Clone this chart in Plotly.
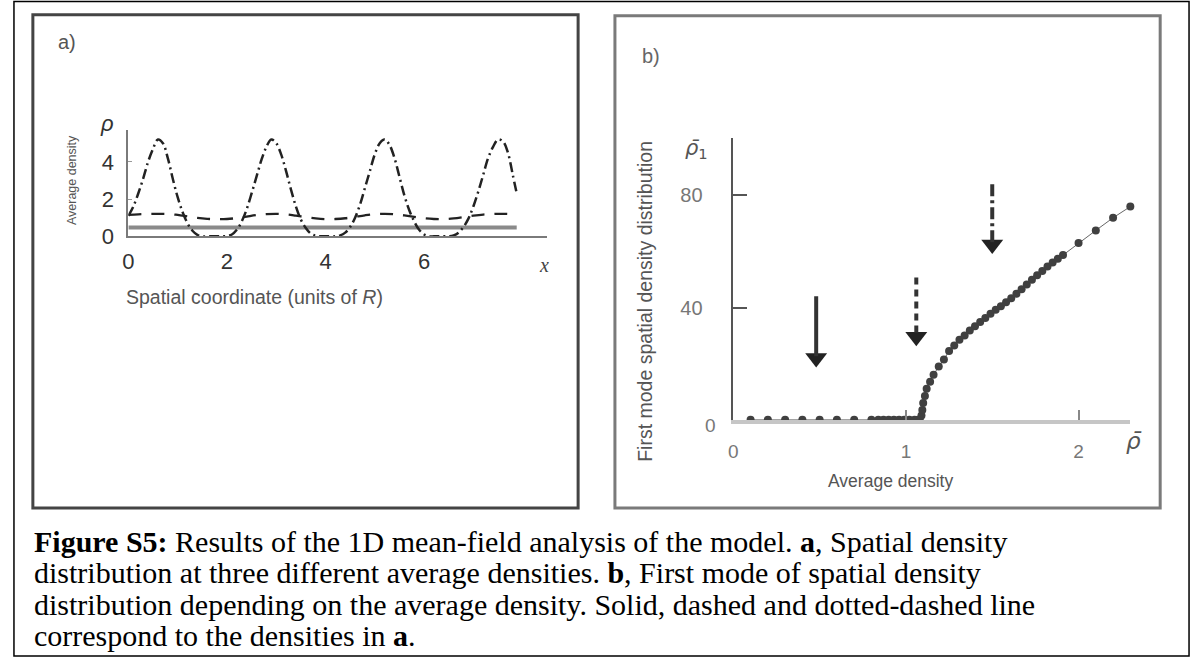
import plotly.graph_objects as go

W, H = 1196, 671

def px(x):
    return x / W

def py(y):
    return 1 - y / H

# ---------------- Panel a data ----------------
a_solid_x = [0.0, 7.88]
a_solid_y = [0.47, 0.47]

a_dash_x = [0.0, 0.2, 0.4, 0.6, 0.8, 1.0, 1.2, 1.4, 1.6, 1.8, 2.0, 2.2, 2.4, 2.6, 2.8,
            3.0, 3.2, 3.4, 3.6, 3.8, 4.0, 4.2, 4.4, 4.6, 4.8, 5.0, 5.2, 5.4, 5.6, 5.8,
            6.0, 6.2, 6.4, 6.6, 6.8, 7.0, 7.2, 7.4, 7.6, 7.88]
a_dash_y = [1.15, 1.18, 1.2, 1.21, 1.2, 1.15, 1.07, 0.99, 0.94, 0.92, 0.93, 0.98, 1.06, 1.14, 1.19,
            1.21, 1.18, 1.11, 1.03, 0.96, 0.92, 0.93, 0.97, 1.05, 1.13, 1.19, 1.21, 1.19, 1.12, 1.04,
            0.97, 0.93, 0.92, 0.96, 1.03, 1.11, 1.17, 1.2, 1.21, 1.18]

a_dd_x = [0.0, 0.1, 0.2, 0.3, 0.4, 0.5, 0.6, 0.7, 0.8, 0.9,
          1.0, 1.1, 1.2, 1.3, 1.4, 1.5, 1.6, 1.7, 1.8, 1.9,
          2.0, 2.1, 2.2, 2.3, 2.4, 2.5, 2.6, 2.7, 2.8, 2.9,
          3.0, 3.1, 3.2, 3.3, 3.4, 3.5, 3.6, 3.7, 3.8, 3.9,
          4.0, 4.1, 4.2, 4.3, 4.4, 4.5, 4.6, 4.7, 4.8, 4.9,
          5.0, 5.1, 5.2, 5.3, 5.4, 5.5, 5.6, 5.7, 5.8, 5.9,
          6.0, 6.1, 6.2, 6.3, 6.4, 6.5, 6.6, 6.7, 6.8, 6.9,
          7.0, 7.1, 7.2, 7.3, 7.4, 7.5, 7.6, 7.7, 7.8, 7.88]
a_dd_y = [1.1, 1.6, 2.3, 3.1, 4.0, 4.7, 5.2, 5.0, 4.2, 3.1,
          2.1, 1.3, 0.7, 0.3, 0.08, 0.0, 0.0, 0.0, 0.0, 0.0,
          0.02, 0.1, 0.35, 0.8, 1.45, 2.3, 3.2, 4.1, 4.8, 5.2,
          5.0, 4.4, 3.5, 2.5, 1.6, 0.9, 0.45, 0.15, 0.03, 0.0,
          0.0, 0.0, 0.0, 0.05, 0.2, 0.5, 1.0, 1.7, 2.6, 3.5,
          4.4, 5.0, 5.2, 4.9, 4.2, 3.2, 2.2, 1.4, 0.8, 0.35,
          0.1, 0.0, 0.0, 0.0, 0.0, 0.0, 0.05, 0.2, 0.5, 0.95,
          1.6, 2.4, 3.3, 4.2, 4.8, 5.2, 5.1, 4.5, 3.3, 2.3]

a_xticks = [0, 2, 4, 6]
a_yticks = [0, 2, 4]

# ---------------- Panel b data ----------------
b_x = [0.1, 0.2, 0.3, 0.4, 0.5, 0.6, 0.7, 0.8, 0.84, 0.87, 0.90, 0.93, 0.96, 0.99,
       1.02, 1.05, 1.07, 1.08,
       1.09, 1.095, 1.10, 1.11, 1.12, 1.14, 1.16, 1.19, 1.22, 1.25, 1.28, 1.31, 1.34,
       1.37, 1.40, 1.43, 1.46, 1.49, 1.52, 1.55, 1.58, 1.61, 1.64, 1.67, 1.70, 1.73,
       1.76, 1.79, 1.82, 1.85, 1.88, 1.91, 2.0, 2.1, 2.2, 2.3]
b_y = [0, 0, 0, 0, 0, 0, 0, 0, 0, 0, 0, 0, 0, 0,
       0, 0, 0, 0,
       1.5, 3.5, 6.0, 8.5, 11.0, 13.5, 16.0, 19.0, 21.5, 24.5, 26.5, 28.5, 30.0,
       31.8, 33.3, 34.8, 36.3, 37.8, 39.2, 40.5, 41.9, 43.3, 44.9, 46.5, 48.2, 49.9,
       51.5, 53.0, 54.6, 56.1, 57.4, 58.7, 63.0, 67.5, 72.0, 76.0]

b_xticks = [0, 1, 2]
b_yticks = [40, 80]

arrow_x = [0.48, 1.06, 1.50]
arrow_top = [44.0, 50.7, 84.0]
arrow_tip = [19.0, 26.6, 59.5]
arrow_dash = ["solid", "7px,5px", "12px,4px,3px,4px"]

fig = go.Figure()

# Panel a traces
fig.add_trace(go.Scatter(x=a_solid_x, y=a_solid_y, mode="lines",
                         line=dict(color="#8a8a8a", width=4), xaxis="x", yaxis="y",
                         showlegend=False, hoverinfo="skip"))
fig.add_trace(go.Scatter(x=a_dash_x, y=a_dash_y, mode="lines", line_shape="spline",
                         line=dict(color="#222", width=2.3, dash="13px,10px"),
                         xaxis="x", yaxis="y", showlegend=False, hoverinfo="skip"))
fig.add_trace(go.Scatter(x=a_dd_x, y=a_dd_y, mode="lines", line_shape="spline",
                         line=dict(color="#222", width=2.5, dash="10px,4px,2px,4px"),
                         xaxis="x", yaxis="y", showlegend=False, hoverinfo="skip"))

# Panel b traces
fig.add_trace(go.Scatter(x=b_x, y=b_y, mode="lines+markers",
                         line=dict(color="#666", width=1),
                         marker=dict(color="#404040", size=8, symbol="circle"),
                         cliponaxis=False, xaxis="x2", yaxis="y2",
                         showlegend=False, hoverinfo="skip"))

shapes = []
head_h = 6.0
for xa, yt, yp, d in zip(arrow_x, arrow_top, arrow_tip, arrow_dash):
    shapes.append(dict(type="line", xref="x2", yref="y2", x0=xa, x1=xa, y0=yt, y1=yp + head_h * 0.6,
                       line=dict(color="#333", width=4, dash=d)))
fig.add_trace(go.Scatter(x=arrow_x, y=[t + head_h / 2 for t in arrow_tip], mode="markers",
                         marker=dict(symbol="triangle-down", size=19, color="#222"),
                         cliponaxis=False, xaxis="x2", yaxis="y2",
                         showlegend=False, hoverinfo="skip"))

# Frames
shapes.append(dict(type="rect", xref="paper", yref="paper", x0=px(8), x1=px(1189), y0=py(669), y1=py(1.5),
                   line=dict(color="#000", width=1.5)))
shapes.append(dict(type="rect", xref="paper", yref="paper", x0=px(27), x1=px(575), y0=py(518), y1=py(15),
                   line=dict(color="#444", width=3)))
shapes.append(dict(type="rect", xref="paper", yref="paper", x0=px(612), x1=px(1160), y0=py(518), y1=py(16),
                   line=dict(color="#7a7a7a", width=3)))

sans = "Liberation Sans, Arial, sans-serif"
serif = "Liberation Serif, Times New Roman, serif"
greek = "DejaVu Sans, sans-serif"

ann = []

def text(x, y, t, size, color="#555", family=sans, angle=0, xanchor="center"):
    ann.append(dict(x=px(x), y=py(y), xref="paper", yref="paper", text=t, showarrow=False,
                    font=dict(size=size, color=color, family=family), textangle=angle,
                    xanchor=xanchor, yanchor="middle"))

# Panel a labels
text(61, 43, "a)", 20, "#555")
text(102, 126, "<i>ρ</i>", 22, "#333")
text(67, 184, "Average density", 12.5, "#555", angle=-90)
text(250, 303, "Spatial coordinate (units of <i>R</i>)", 19.5, "#555")
text(541, 270, "<i>x</i>", 20, "#444", family=serif)

# Panel b labels
text(648, 57, "b)", 20, "#666")
text(694, 152, "<i>ρ̄</i><sub>1</sub>", 21, "#555", family=greek)
text(642, 307, "First mode spatial density distribution", 19.5, "#555", angle=-90)
text(889, 491, "Average density", 17.5, "#555")
text(1134, 450, "<i>ρ̄</i>", 23, "#555", family=greek)
text(708, 434, "0", 19, "#777")

# Caption
cap = [
    "<b>Figure S5:</b> Results of the 1D mean-field analysis of the model. <b>a</b>, Spatial density",
    "distribution at three different average densities. <b>b</b>, First mode of spatial density",
    "distribution depending on the average density. Solid, dashed and dotted-dashed line",
    "correspond to the densities in <b>a</b>.",
]
for i, line in enumerate(cap):
    text(26, 552 + 32 * i, line, 30, "#000", family=serif, xanchor="left")

fig.update_layout(
    width=W, height=H, autosize=False,
    margin=dict(l=0, r=0, t=0, b=0),
    paper_bgcolor="white", plot_bgcolor="white",
    showlegend=False,
    xaxis=dict(domain=[px(123), px(544)], range=[0, 8.5], showgrid=False, zeroline=False,
               showline=True, linecolor="#7a7a7a", linewidth=2, ticks="",
               tickvals=a_xticks, ticktext=[str(v) for v in a_xticks],
               tickfont=dict(size=22, color="#333", family=sans), anchor="y",
               ticklabelstandoff=4),
    yaxis=dict(domain=[py(241), py(132.7)], range=[0, 5.7], showgrid=False, zeroline=False,
               showline=True, linecolor="#7a7a7a", linewidth=2, ticks="inside", ticklen=4,
               tickcolor="#999", tickvals=a_yticks, ticktext=[str(v) for v in a_yticks],
               tickfont=dict(size=22, color="#333", family=sans), anchor="x",
               ticklabelstandoff=8),
    xaxis2=dict(domain=[px(731), px(1130)], range=[0, 2.3], showgrid=False, zeroline=False,
                showline=True, linecolor="#c6c6c6", linewidth=4, ticks="inside", ticklen=10,
                tickcolor="#888", tickwidth=1.5, tickvals=b_xticks,
                ticktext=[str(v) for v in b_xticks],
                tickfont=dict(size=19, color="#777", family=sans), anchor="y2",
                ticklabelstandoff=11),
    yaxis2=dict(domain=[py(428), py(140.6)], range=[0, 100.5], showgrid=False, zeroline=False,
                showline=True, linecolor="#555", linewidth=1.5, ticks="inside", ticklen=14,
                tickcolor="#555", tickwidth=1.5, tickvals=b_yticks,
                ticktext=[str(v) for v in b_yticks],
                tickfont=dict(size=20, color="#777", family=sans), anchor="x2",
                ticklabelstandoff=25),
    shapes=shapes,
    annotations=ann,
)

fig.write_html("out.html")
